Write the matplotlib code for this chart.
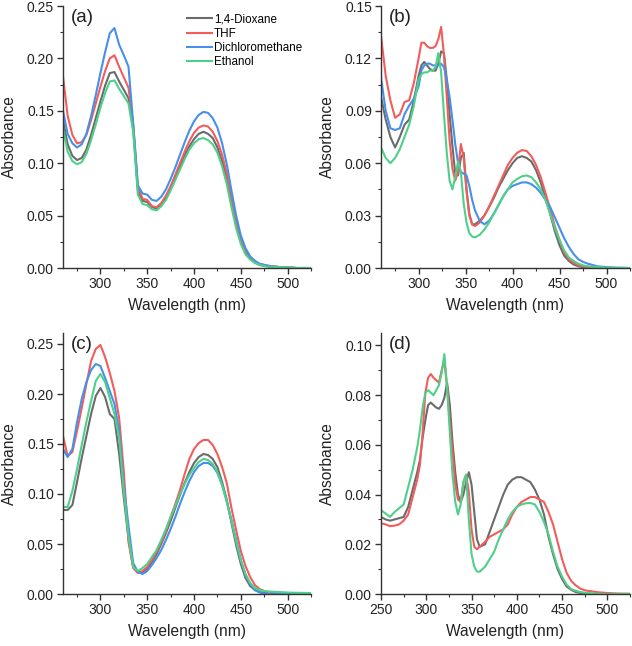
import matplotlib
matplotlib.use("Agg")
import matplotlib.pyplot as plt
from matplotlib.ticker import MultipleLocator

plt.rcParams['font.family'] = ['Liberation Sans', 'DejaVu Sans']

# solvents and colours
solvents = ['1,4-Dioxane', 'THF', 'Dichloromethane', 'Ethanol']
colors = ['#6b6b6b', '#f25c5c', '#4690ec', '#4fd08a']

# wavelength grids (nm)
wl_ac = list(range(260, 481, 5)) + [490, 500, 510, 525]
wl_b = list(range(260, 301, 5)) + list(range(303, 361, 3)) + list(range(365, 481, 5)) + [490, 500, 510, 525]
wl_d = list(range(250, 291, 5)) + list(range(293, 360, 3)) + list(range(365, 481, 5)) + [490, 500, 510, 525]

# panel (a)
a_dioxane = [0.141, 0.118, 0.107, 0.103, 0.105, 0.113, 0.127, 0.143, 0.159, 0.174, 0.186, 0.187, 0.178, 0.170, 0.162,
             0.133, 0.074, 0.064, 0.063, 0.058, 0.057, 0.061, 0.067, 0.076, 0.086, 0.097, 0.107, 0.116, 0.123, 0.128,
             0.130, 0.128, 0.124, 0.115, 0.102, 0.085, 0.063, 0.042, 0.026, 0.015, 0.009, 0.005, 0.003, 0.002, 0.0015,
             0.001, 0.0005, 0.0, 0.0]
a_thf = [0.183, 0.145, 0.127, 0.119, 0.120, 0.127, 0.141, 0.157, 0.173, 0.188, 0.200, 0.203, 0.192, 0.182, 0.172,
         0.137, 0.077, 0.066, 0.065, 0.059, 0.058, 0.062, 0.069, 0.078, 0.089, 0.100, 0.111, 0.121, 0.129, 0.134,
         0.136, 0.135, 0.130, 0.121, 0.108, 0.090, 0.067, 0.045, 0.028, 0.017, 0.010, 0.006, 0.004, 0.003, 0.002,
         0.001, 0.0005, 0.0, 0.0]
a_dcm = [0.150, 0.128, 0.119, 0.115, 0.118, 0.128, 0.145, 0.165, 0.186, 0.206, 0.224, 0.229, 0.213, 0.203, 0.192,
         0.138, 0.079, 0.071, 0.070, 0.065, 0.064, 0.068, 0.075, 0.085, 0.096, 0.108, 0.120, 0.131, 0.140, 0.146,
         0.149, 0.148, 0.143, 0.134, 0.119, 0.099, 0.074, 0.050, 0.031, 0.019, 0.011, 0.007, 0.004, 0.003, 0.002,
         0.001, 0.0005, 0.0, 0.0]
a_ethanol = [0.133, 0.111, 0.102, 0.099, 0.101, 0.109, 0.122, 0.137, 0.153, 0.167, 0.178, 0.179, 0.171, 0.164, 0.157,
             0.130, 0.070, 0.061, 0.060, 0.056, 0.055, 0.059, 0.065, 0.074, 0.084, 0.094, 0.104, 0.113, 0.119, 0.123,
             0.124, 0.122, 0.118, 0.110, 0.097, 0.080, 0.058, 0.038, 0.023, 0.013, 0.008, 0.005, 0.003, 0.002, 0.001,
             0.001, 0.0005, 0.0, 0.0]

# panel (b)
b_dioxane = [0.098, 0.085, 0.075, 0.069, 0.075, 0.082, 0.085, 0.096, 0.110,
             0.116, 0.118, 0.116, 0.114, 0.113, 0.113, 0.117, 0.124, 0.123, 0.108, 0.088, 0.070, 0.054, 0.053, 0.063,
             0.066, 0.045, 0.031, 0.025, 0.025,
             0.027, 0.030, 0.035, 0.040, 0.046, 0.051, 0.056, 0.060, 0.063, 0.064, 0.063, 0.061, 0.056, 0.049, 0.040,
             0.031, 0.021, 0.013, 0.007, 0.004, 0.002, 0.001, 0.0005, 0.0002,
             0.0, 0.0, 0.0, 0.0]
b_thf = [0.133, 0.110, 0.096, 0.086, 0.088, 0.095, 0.096, 0.106, 0.120,
         0.129, 0.129, 0.127, 0.126, 0.126, 0.127, 0.131, 0.138, 0.122, 0.098, 0.073, 0.057, 0.050, 0.055, 0.071,
         0.063, 0.044, 0.030, 0.025, 0.024,
         0.026, 0.030, 0.035, 0.041, 0.047, 0.053, 0.059, 0.063, 0.066, 0.0675, 0.067, 0.064, 0.059, 0.052, 0.043,
         0.034, 0.024, 0.016, 0.009, 0.005, 0.003, 0.0015, 0.001, 0.0005,
         0.0002, 0.0, 0.0, 0.0]
b_dcm = [0.109, 0.090, 0.080, 0.079, 0.080, 0.088, 0.093, 0.097, 0.104,
         0.113, 0.116, 0.117, 0.117, 0.116, 0.116, 0.116, 0.117, 0.115, 0.108, 0.098, 0.085, 0.071, 0.060, 0.055,
         0.054, 0.053, 0.047, 0.039, 0.033,
         0.027, 0.025, 0.027, 0.031, 0.036, 0.041, 0.045, 0.047, 0.048, 0.049, 0.049, 0.048, 0.046, 0.043, 0.039,
         0.035, 0.029, 0.023, 0.017, 0.012, 0.008, 0.005, 0.0035, 0.0025,
         0.001, 0.0005, 0.0002, 0.0]
b_ethanol = [0.069, 0.063, 0.060, 0.063, 0.068, 0.075, 0.082, 0.093, 0.108,
             0.111, 0.112, 0.112, 0.113, 0.113, 0.115, 0.123, 0.112, 0.088, 0.066, 0.050, 0.045, 0.052, 0.061, 0.055,
             0.037, 0.026, 0.020, 0.018, 0.0175,
             0.019, 0.022, 0.026, 0.031, 0.036, 0.041, 0.045, 0.049, 0.051, 0.0525, 0.053, 0.052, 0.049, 0.045, 0.039,
             0.031, 0.023, 0.016, 0.010, 0.006, 0.004, 0.0025, 0.0015, 0.001,
             0.0005, 0.0002, 0.0, 0.0]

# panel (c)
c_dioxane = [0.084, 0.084, 0.089, 0.112, 0.136, 0.158, 0.180, 0.198, 0.206, 0.197, 0.180, 0.175, 0.140, 0.096, 0.055,
             0.027, 0.022, 0.022, 0.025, 0.032, 0.040, 0.050, 0.061, 0.073, 0.086, 0.099, 0.111, 0.122, 0.131, 0.137,
             0.140, 0.139, 0.135, 0.127, 0.112, 0.094, 0.071, 0.049, 0.030, 0.016, 0.008, 0.004, 0.002, 0.001, 0.001,
             0.0005, 0.0003, 0.0002, 0.0]
c_thf = [0.158, 0.138, 0.142, 0.163, 0.186, 0.210, 0.233, 0.245, 0.249, 0.237, 0.221, 0.203, 0.176, 0.122, 0.052,
         0.026, 0.021, 0.023, 0.027, 0.034, 0.042, 0.052, 0.063, 0.077, 0.090, 0.104, 0.120, 0.135, 0.145, 0.151,
         0.154, 0.154, 0.149, 0.140, 0.127, 0.111, 0.086, 0.064, 0.043, 0.028, 0.017, 0.009, 0.005, 0.003, 0.002,
         0.001, 0.0005, 0.0002, 0.0]
c_dcm = [0.145, 0.137, 0.145, 0.172, 0.195, 0.212, 0.224, 0.230, 0.228, 0.216, 0.203, 0.190, 0.163, 0.108, 0.068,
         0.031, 0.022, 0.020, 0.023, 0.029, 0.036, 0.044, 0.054, 0.065, 0.077, 0.090, 0.102, 0.113, 0.122, 0.128,
         0.131, 0.131, 0.128, 0.121, 0.109, 0.093, 0.074, 0.054, 0.034, 0.019, 0.010, 0.004, 0.0015, 0.0005, 0.0,
         0.0, 0.0, 0.0, 0.0]
c_ethanol = [0.087, 0.087, 0.103, 0.125, 0.149, 0.172, 0.193, 0.213, 0.220, 0.212, 0.196, 0.180, 0.156, 0.102, 0.058,
             0.027, 0.023, 0.026, 0.030, 0.037, 0.044, 0.054, 0.065, 0.077, 0.088, 0.100, 0.110, 0.119, 0.126, 0.132,
             0.135, 0.134, 0.130, 0.122, 0.109, 0.092, 0.073, 0.053, 0.034, 0.020, 0.011, 0.006, 0.004, 0.003, 0.0025,
             0.002, 0.0015, 0.0012, 0.001]

# panel (d) - no dichloromethane trace
d_dioxane = [0.031, 0.030, 0.0295, 0.030, 0.0305, 0.031, 0.035, 0.042, 0.049,
             0.054, 0.063, 0.070, 0.076, 0.077, 0.076, 0.075, 0.0745, 0.076, 0.079, 0.085, 0.076, 0.061, 0.049, 0.040,
             0.037, 0.040, 0.045, 0.049, 0.044, 0.033, 0.022, 0.019,
             0.020, 0.025, 0.030, 0.035, 0.040, 0.044, 0.046, 0.047, 0.047, 0.046, 0.045, 0.042, 0.038, 0.032, 0.023,
             0.016, 0.010, 0.006, 0.003, 0.0017, 0.0008, 0.0004, 0.0002, 0.0001,
             0.0, 0.0, 0.0, 0.0]
d_thf = [0.0285, 0.028, 0.0273, 0.0275, 0.028, 0.0295, 0.032, 0.039, 0.046,
         0.052, 0.065, 0.081, 0.087, 0.0885, 0.087, 0.086, 0.085, 0.090, 0.094, 0.083, 0.069, 0.057, 0.044, 0.038,
         0.037, 0.045, 0.048, 0.041, 0.026, 0.019, 0.018, 0.019,
         0.021, 0.023, 0.024, 0.025, 0.026, 0.028, 0.032, 0.035, 0.037, 0.038, 0.039, 0.039, 0.038, 0.037, 0.033,
         0.028, 0.021, 0.014, 0.0085, 0.0053, 0.0035, 0.0022, 0.0015, 0.0012,
         0.0007, 0.0004, 0.0002, 0.0001]
d_ethanol = [0.0337, 0.0324, 0.031, 0.033, 0.0345, 0.036, 0.043, 0.050, 0.059,
             0.066, 0.075, 0.081, 0.082, 0.081, 0.080, 0.082, 0.084, 0.089, 0.0965, 0.083, 0.065, 0.048, 0.037, 0.032,
             0.036, 0.045, 0.048, 0.030, 0.016, 0.011, 0.009, 0.009,
             0.011, 0.014, 0.017, 0.022, 0.026, 0.030, 0.033, 0.035, 0.036, 0.0365, 0.0366, 0.036, 0.033, 0.029, 0.024,
             0.017, 0.011, 0.007, 0.0038, 0.002, 0.0013, 0.0008, 0.0005, 0.0003,
             0.0001, 0.0, 0.0, 0.0]

panels = [
    ('(a)', wl_ac, [a_dioxane, a_thf, a_dcm, a_ethanol], (260, 525), (0, 0.25), 0.05, 300),
    ('(b)', wl_b, [b_dioxane, b_thf, b_dcm, b_ethanol], (260, 525), (0, 0.15), 0.03, 300),
    ('(c)', wl_ac, [c_dioxane, c_thf, c_dcm, c_ethanol], (260, 525), (0, 0.261), 0.05, 300),
    ('(d)', wl_d, [d_dioxane, d_thf, None, d_ethanol], (250, 525), (0, 0.105), 0.02, 250),
]

# axes boxes in pixels: left, top, right, bottom
W, H = 632, 646
boxes = [(63, 6, 311, 268), (381, 6, 630, 268), (63, 333, 311, 594), (381, 333, 630, 594)]

fig = plt.figure(figsize=(W / 100, H / 100), dpi=100)

for (label, wl, series, xlim, ylim, ystep, xfirst), (l, t, r, b) in zip(panels, boxes):
    ax = fig.add_axes([l / W, 1 - b / H, (r - l) / W, (b - t) / H])
    for name, col, vals in zip(solvents, colors, series):
        if vals is None:
            continue
        ax.plot(wl, vals, color=col, lw=1.5, label=name)

    ax.set_xlim(*xlim)
    ax.set_ylim(*ylim)
    ax.set_xticks(range(xfirst, 501, 50))
    ax.xaxis.set_minor_locator(MultipleLocator(25))
    ax.yaxis.set_major_locator(MultipleLocator(ystep))
    ax.yaxis.set_minor_locator(MultipleLocator(ystep / 2))
    ax.yaxis.set_major_formatter(plt.FormatStrFormatter('%.2f'))

    for side in ['top', 'right']:
        ax.spines[side].set_visible(False)
    for side in ['left', 'bottom']:
        ax.spines[side].set_linewidth(1.0)
        ax.spines[side].set_color('#333333')
    ax.tick_params(which='major', direction='out', length=4, width=1.0, color='#333333',
                   labelsize=10, labelcolor='#222222', pad=2.5)
    ax.tick_params(which='minor', direction='out', length=2.5, width=0.8, color='#333333')

    ax.set_xlabel('Wavelength (nm)', fontsize=11.2, color='#222222')
    ax.set_ylabel('Absorbance', fontsize=11.2, color='#222222')
    ax.xaxis.set_label_coords(0.5, -0.115)
    ax.yaxis.set_label_coords(-0.185, 0.5)

    ax.text(0.03, 0.99, label, transform=ax.transAxes, fontsize=13.5, ha='left', va='top', color='#222222')

    if label == '(a)':
        ax.legend(loc='upper left', bbox_to_anchor=(0.50, 0.972), frameon=False, fontsize=8.4,
                  handlelength=2.1, handletextpad=0.2, labelspacing=0.2, borderpad=0, borderaxespad=0)

fig.savefig('out.png', dpi=100, facecolor='white')
